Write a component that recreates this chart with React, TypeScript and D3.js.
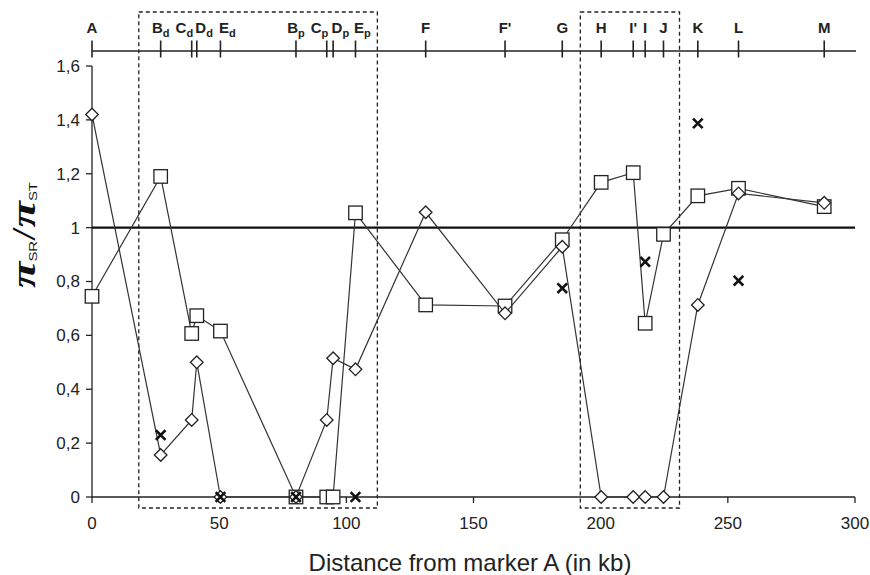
import React from "react";
import * as d3 from "d3";

// Markers along the chromosome (top axis)
const markerBase = ["A", "B", "C", "D", "E", "B", "C", "D", "E", "F", "F'", "G", "H", "I'", "I", "J", "K", "L", "M"];
const markerSub = ["", "d", "d", "d", "d", "p", "p", "p", "p", "", "", "", "", "", "", "", "", "", ""];
const markerKb = [0, 27, 39.2, 41.2, 50.5, 80.2, 92.3, 94.8, 103.6, 131.2, 162.4, 184.9, 200.2, 212.8, 217.5, 224.7, 238.2, 254.2, 287.9];
const labelAnchor = ["middle", "middle", "end", "start", "start", "middle", "end", "start", "start", "middle", "middle", "middle", "middle", "middle", "middle", "middle", "middle", "middle", "middle"];

// Series values at each marker
const squareValues = [0.745, 1.19, 0.607, 0.673, 0.616, 0, 0, 0, 1.055, 0.713, 0.709, 0.955, 1.168, 1.204, 0.645, 0.975, 1.118, 1.146, 1.078];
const diamondValues = [1.42, 0.156, 0.286, 0.5, 0, 0, 0.286, 0.515, 0.474, 1.057, 0.682, 0.929, 0, 0, 0, 0, 0.713, 1.127, 1.092];
const crossKb = [27, 50.5, 80.2, 103.6, 184.9, 217.5, 238.2, 254.2];
const crossValues = [0.23, 0, 0, 0, 0.775, 0.873, 1.387, 0.803];

// Dashed regions (kb)
const boxFrom = [18.4, 192];
const boxTo = [112.2, 231];

const xTicks = [0, 50, 100, 150, 200, 250, 300];
const yTicks = [0, 0.2, 0.4, 0.6, 0.8, 1, 1.2, 1.4, 1.6];
const yTickLabels = ["0", "0,2", "0,4", "0,6", "0,8", "1", "1,2", "1,4", "1,6"];

const W = 870;
const H = 575;
const FONT = "'Liberation Sans', Arial, sans-serif";
const INK = "#222";

export default function App() {
  const x = d3.scaleLinear().domain([0, 300]).range([92, 855]);
  const y = d3.scaleLinear().domain([0, 1.6]).range([497, 66]);
  const topY = 51;

  const squarePts: [number, number][] = markerKb.map((k, i) => [k, squareValues[i]]);
  const diamondPts: [number, number][] = markerKb.map((k, i) => [k, diamondValues[i]]);
  const line = d3
    .line<[number, number]>()
    .x((d) => x(d[0]))
    .y((d) => y(d[1]));

  const sq = 13.5;
  const dm = 6.3;
  const cr = 4.8;

  return (
    <svg
      width={W}
      height={H}
      viewBox={`0 0 ${W} ${H}`}
      style={{ position: "absolute", left: 0, top: 0, background: "#fff" }}
    >
      <rect x={0} y={0} width={W} height={H} fill="#fff" />

      {/* dashed regions */}
      {boxFrom.map((f, i) => (
        <rect
          key={"box" + i}
          x={x(f)}
          y={12}
          width={x(boxTo[i]) - x(f)}
          height={508 - 12}
          fill="none"
          stroke={INK}
          strokeWidth={1.3}
          strokeDasharray="4,3"
        />
      ))}

      {/* top marker axis */}
      <line x1={x(0)} x2={x(300) + 1} y1={topY} y2={topY} stroke={INK} strokeWidth={1.6} />
      {markerKb.map((k, i) => (
        <g key={"m" + i}>
          <line x1={x(k)} x2={x(k)} y1={40.5} y2={57.5} stroke={INK} strokeWidth={1.6} />
          <text
            x={x(k) + (labelAnchor[i] === "end" ? 1.5 : labelAnchor[i] === "start" ? -1.5 : 0)}
            y={33}
            textAnchor={labelAnchor[i]}
            fontFamily={FONT}
            fontWeight="bold"
            fontSize={15}
            fill={INK}
          >
            {markerBase[i]}
            {markerSub[i] && (
              <tspan fontSize={11} dy={3.5}>
                {markerSub[i]}
              </tspan>
            )}
          </text>
        </g>
      ))}

      {/* y axis */}
      <line x1={x(0)} x2={x(0)} y1={y(1.6)} y2={y(0)} stroke={INK} strokeWidth={1.3} />
      {yTicks.map((t, i) => (
        <g key={"yt" + i}>
          <line x1={x(0) - 6} x2={x(0)} y1={y(t)} y2={y(t)} stroke={INK} strokeWidth={1.3} />
          <text
            x={x(0) - 12}
            y={y(t)}
            dy="0.35em"
            textAnchor="end"
            fontFamily={FONT}
            fontSize={17}
            fill={INK}
          >
            {yTickLabels[i]}
          </text>
        </g>
      ))}

      {/* x axis */}
      <line x1={x(0)} x2={x(300)} y1={y(0)} y2={y(0)} stroke={INK} strokeWidth={1.3} />
      {xTicks.map((t) => (
        <g key={"xt" + t}>
          <line x1={x(t)} x2={x(t)} y1={y(0)} y2={y(0) + 6} stroke={INK} strokeWidth={1.3} />
          <text
            x={x(t)}
            y={529}
            textAnchor="middle"
            fontFamily={FONT}
            fontSize={17}
            fill={INK}
          >
            {t}
          </text>
        </g>
      ))}

      {/* reference line at 1 */}
      <line x1={x(0)} x2={x(300)} y1={y(1)} y2={y(1)} stroke="#111" strokeWidth={2.3} />

      {/* squares series */}
      <path d={line(squarePts) || ""} fill="none" stroke="#333" strokeWidth={1.2} />
      {squarePts.map((p, i) => (
        <rect
          key={"sq" + i}
          x={x(p[0]) - sq / 2}
          y={y(p[1]) - sq / 2}
          width={sq}
          height={sq}
          fill="#fff"
          stroke={INK}
          strokeWidth={1.3}
        />
      ))}

      {/* diamonds series */}
      <path d={line(diamondPts) || ""} fill="none" stroke="#333" strokeWidth={1.2} />
      {diamondPts.map((p, i) => {
        const cx = x(p[0]);
        const cy = y(p[1]);
        return (
          <path
            key={"dm" + i}
            d={`M${cx},${cy - dm}L${cx + dm},${cy}L${cx},${cy + dm}L${cx - dm},${cy}Z`}
            fill="#fff"
            stroke={INK}
            strokeWidth={1.3}
          />
        );
      })}

      {/* crosses */}
      {crossKb.map((k, i) => {
        const cx = x(k);
        const cy = y(crossValues[i]);
        return (
          <path
            key={"cr" + i}
            d={`M${cx - cr},${cy - cr}L${cx + cr},${cy + cr}M${cx - cr},${cy + cr}L${cx + cr},${cy - cr}`}
            stroke="#111"
            strokeWidth={2.6}
            fill="none"
          />
        );
      })}

      {/* y axis title */}
      <text
        transform="translate(35,235) rotate(-90)"
        textAnchor="middle"
        fontFamily="'Liberation Serif', 'DejaVu Serif', serif"
        fill="#111"
        textLength={106}
        lengthAdjust="spacingAndGlyphs"
      >
        <tspan fontSize={34} fontWeight="bold" fontStyle="italic">π</tspan>
        <tspan fontSize={10.5} fontFamily={FONT} dy={2}>SR</tspan>
        <tspan fontSize={34} dy={-2}>/</tspan>
        <tspan fontSize={34} fontWeight="bold" fontStyle="italic">π</tspan>
        <tspan fontSize={10.5} fontFamily={FONT} dy={2}>ST</tspan>
      </text>

      {/* x axis title */}
      <text
        x={470}
        y={571}
        textAnchor="middle"
        fontFamily={FONT}
        fontSize={24}
        fill={INK}
      >
        Distance from marker A (in kb)
      </text>
    </svg>
  );
}
